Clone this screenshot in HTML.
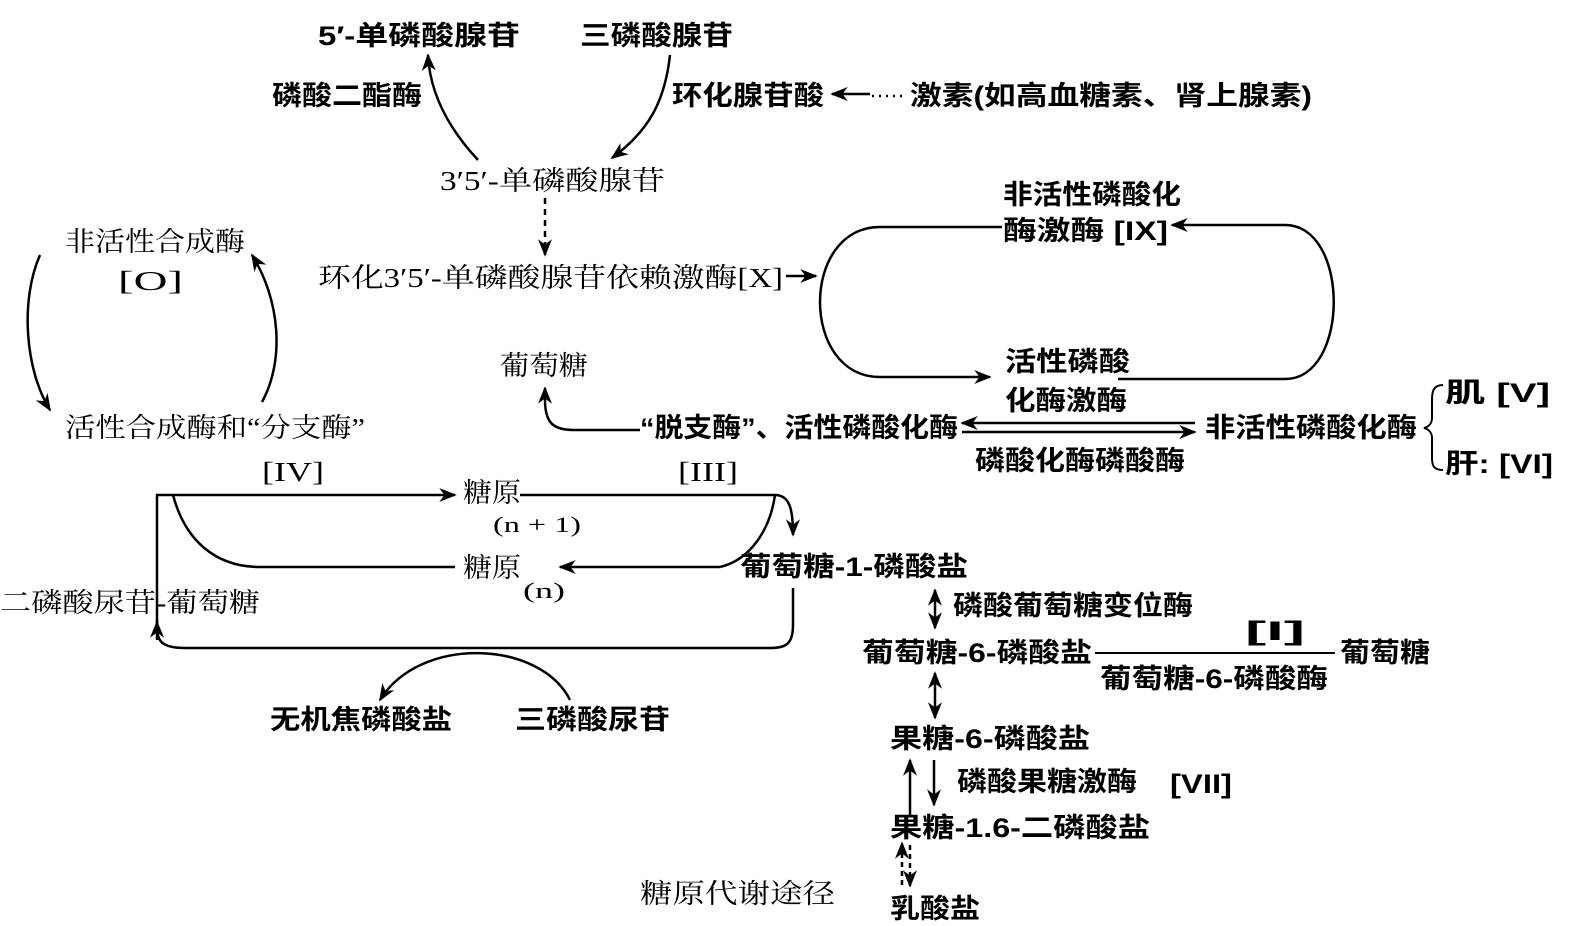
<!DOCTYPE html>
<html><head><meta charset="utf-8"><style>
html,body{margin:0;padding:0;background:#fff;}
svg{display:block}
text{font-family:"Liberation Serif","Noto Serif CJK SC","Noto Sans CJK SC",serif;font-size:27px;fill:#000}
.b{font-weight:bold;font-family:"Liberation Sans","Noto Sans CJK SC",sans-serif}
</style></head><body>
<svg width="1576" height="926" viewBox="0 0 1576 926" xmlns="http://www.w3.org/2000/svg">
<defs>
<marker id="a" viewBox="0 0 10 10" refX="9" refY="5" markerWidth="7" markerHeight="7" orient="auto-start-reverse"><path d="M0,1 L10,5 L0,9 L3,5 Z" fill="#000"/></marker>
</defs>
<g stroke="#000" stroke-width="2.5" fill="none">
<path d="M478,160 C450,130 430,95 428,55" marker-end="url(#a)"/>
<path d="M670,55 C665,100 650,130 612,158" marker-end="url(#a)"/>
<path d="M870,94 L832,94" marker-end="url(#a)"/>
<path d="M872,96 L906,96" stroke-dasharray="2,5"/>
<path d="M545,198 L545,255" stroke-dasharray="6,5" marker-end="url(#a)"/>
<path d="M786,276 L816,276" marker-end="url(#a)"/>
<path d="M40,255 C20,300 25,370 50,410" marker-end="url(#a)"/>
<path d="M262,402 C285,360 280,300 252,255" marker-end="url(#a)"/>
<path d="M640,430 L575,430 C555,430 545,425 545,400 L545,388" marker-end="url(#a)"/>
<path d="M1002,227 L880,227 C800,227 800,377 880,377 L990,377" marker-end="url(#a)"/>
<path d="M1118,379 L1285,379 C1350,379 1350,225 1285,225 L1172,225" marker-end="url(#a)"/>
<path d="M1195,423 L962,423" marker-end="url(#a)"/>
<path d="M962,432 L1195,432" marker-end="url(#a)"/>
<path d="M1443,385 C1433,385 1432,392 1432,400 L1432,418 C1432,424 1428,427 1424,428 C1428,429 1432,432 1432,438 L1432,458 C1432,466 1434,470 1443,470" stroke-width="2"/>
<path d="M173,495 L455,495" marker-end="url(#a)"/>
<path d="M520,495 L775,495 C790,495 793,510 793,535" marker-end="url(#a)"/>
<path d="M173,495 C185,540 215,567 260,567 L455,567" />
<path d="M720,567 L560,567" marker-end="url(#a)"/>
<path d="M775,495 C770,530 750,560 720,567"/>
<path d="M793,588 L793,625 C793,645 785,648 770,648 L185,648 C160,648 157,640 157,625 L157,620" />
<path d="M157,640 L157,622" marker-end="url(#a)"/>
<path d="M157,625 L157,495 L173,495"/>
<path d="M570,700 C540,640 420,635 380,700" marker-end="url(#a)"/>
<path d="M935,590 L935,628" marker-start="url(#a)" marker-end="url(#a)"/>
<path d="M1095,653 L1335,653" stroke-width="2"/>
<path d="M935,673 L935,718" marker-start="url(#a)" marker-end="url(#a)"/>
<path d="M910,815 L910,760" marker-end="url(#a)"/>
<path d="M934,760 L934,805" marker-end="url(#a)"/>
<path d="M902,885 L902,843" stroke-dasharray="5,4" marker-end="url(#a)"/>
<path d="M910,845 L910,886" stroke-dasharray="5,4" marker-end="url(#a)"/>
</g>
<text class="b" x="318" y="45" textLength="202" lengthAdjust="spacingAndGlyphs">5′-单磷酸腺苷</text>
<text class="b" x="580" y="45" textLength="153" lengthAdjust="spacingAndGlyphs">三磷酸腺苷</text>
<text class="b" x="272" y="105" textLength="150" lengthAdjust="spacingAndGlyphs">磷酸二酯酶</text>
<text class="b" x="672" y="105" textLength="152" lengthAdjust="spacingAndGlyphs">环化腺苷酸</text>
<text class="b" x="910" y="105" textLength="402" lengthAdjust="spacingAndGlyphs">激素(如高血糖素、肾上腺素)</text>
<text x="440" y="190" textLength="225" lengthAdjust="spacingAndGlyphs">3′5′-单磷酸腺苷</text>
<text x="318" y="287" textLength="465" lengthAdjust="spacingAndGlyphs">环化3′5′-单磷酸腺苷依赖激酶[X]</text>
<text x="65" y="251" textLength="180" lengthAdjust="spacingAndGlyphs">非活性合成酶</text>
<text x="118" y="290" textLength="65" lengthAdjust="spacingAndGlyphs">[O]</text>
<text x="65" y="437" textLength="300" lengthAdjust="spacingAndGlyphs">活性合成酶和“分支酶”</text>
<text x="500" y="375" textLength="88" lengthAdjust="spacingAndGlyphs">葡萄糖</text>
<text class="b" x="640" y="437" textLength="318" lengthAdjust="spacingAndGlyphs">“脱支酶”、活性磷酸化酶</text>
<text class="b" x="1003" y="204" textLength="178" lengthAdjust="spacingAndGlyphs">非活性磷酸化</text>
<text class="b" x="1003" y="240" textLength="165" lengthAdjust="spacingAndGlyphs">酶激酶 [IX]</text>
<text class="b" x="1005" y="371" textLength="125" lengthAdjust="spacingAndGlyphs">活性磷酸</text>
<text class="b" x="1005" y="410" textLength="122" lengthAdjust="spacingAndGlyphs">化酶激酶</text>
<text class="b" x="1205" y="437" textLength="212" lengthAdjust="spacingAndGlyphs">非活性磷酸化酶</text>
<text class="b" x="975" y="470" textLength="210" lengthAdjust="spacingAndGlyphs">磷酸化酶磷酸酶</text>
<text class="b" x="1445" y="402" textLength="105" lengthAdjust="spacingAndGlyphs">肌 [V]</text>
<text class="b" x="1445" y="473" textLength="108" lengthAdjust="spacingAndGlyphs">肝: [VI]</text>
<text x="262" y="481" textLength="62" lengthAdjust="spacingAndGlyphs">[IV]</text>
<text x="678" y="481" textLength="60" lengthAdjust="spacingAndGlyphs">[III]</text>
<text x="463" y="502" textLength="58" lengthAdjust="spacingAndGlyphs">糖原</text>
<text x="493" y="532" textLength="88" lengthAdjust="spacingAndGlyphs" style="font-size:22px">(n + 1)</text>
<text x="463" y="577" textLength="58" lengthAdjust="spacingAndGlyphs">糖原</text>
<text x="523" y="598" textLength="42" lengthAdjust="spacingAndGlyphs" style="font-size:22px">(n)</text>
<text x="0" y="612" textLength="260" lengthAdjust="spacingAndGlyphs">二磷酸尿苷-葡萄糖</text>
<text class="b" x="740" y="576" textLength="228" lengthAdjust="spacingAndGlyphs">葡萄糖-1-磷酸盐</text>
<text class="b" x="270" y="729" textLength="182" lengthAdjust="spacingAndGlyphs">无机焦磷酸盐</text>
<text class="b" x="515" y="729" textLength="155" lengthAdjust="spacingAndGlyphs">三磷酸尿苷</text>
<text class="b" x="953" y="615" textLength="240" lengthAdjust="spacingAndGlyphs">磷酸葡萄糖变位酶</text>
<text class="b" x="862" y="662" textLength="230" lengthAdjust="spacingAndGlyphs">葡萄糖-6-磷酸盐</text>
<text class="b" x="1245" y="640" textLength="60" lengthAdjust="spacingAndGlyphs">[I]</text>
<text class="b" x="1100" y="688" textLength="228" lengthAdjust="spacingAndGlyphs">葡萄糖-6-磷酸酶</text>
<text class="b" x="1340" y="662" textLength="90" lengthAdjust="spacingAndGlyphs">葡萄糖</text>
<text class="b" x="890" y="748" textLength="200" lengthAdjust="spacingAndGlyphs">果糖-6-磷酸盐</text>
<text class="b" x="957" y="791" textLength="180" lengthAdjust="spacingAndGlyphs">磷酸果糖激酶</text>
<text class="b" x="1170" y="793" textLength="62" lengthAdjust="spacingAndGlyphs">[VII]</text>
<text class="b" x="890" y="837" textLength="260" lengthAdjust="spacingAndGlyphs">果糖-1.6-二磷酸盐</text>
<text class="b" x="890" y="918" textLength="90" lengthAdjust="spacingAndGlyphs">乳酸盐</text>
<text x="640" y="903" textLength="195" lengthAdjust="spacingAndGlyphs">糖原代谢途径</text>
</svg>
</body></html>
